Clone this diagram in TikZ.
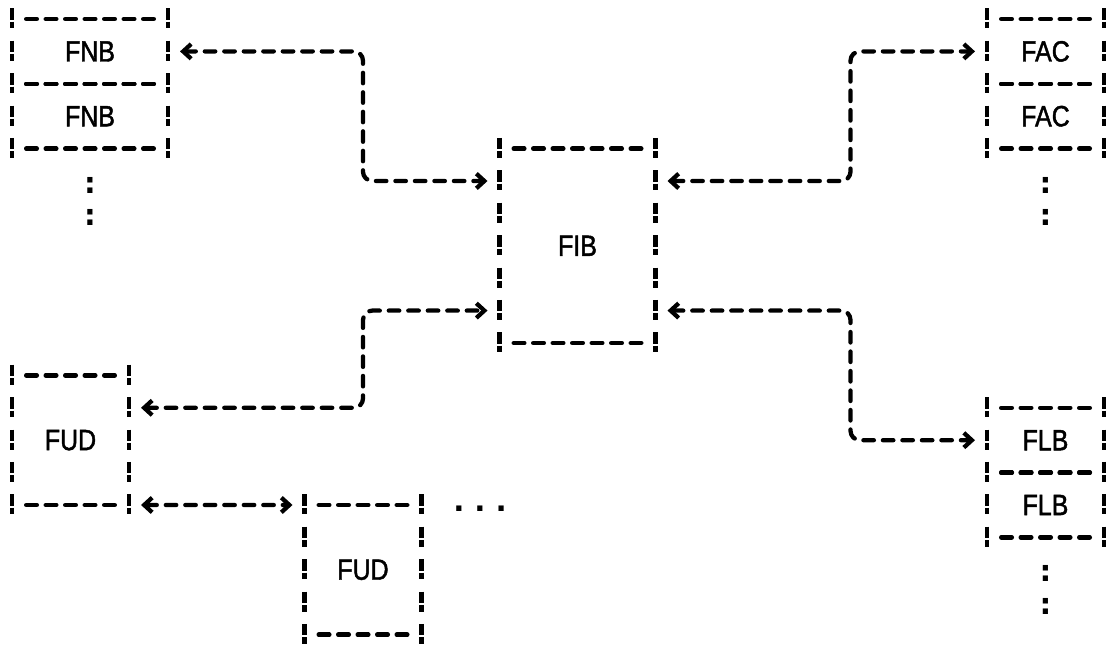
\documentclass[tikz,border=0pt]{standalone}
\usepackage{fontspec}
\setmainfont{Liberation Sans}
\newfontfamily\lblfont[FakeStretch=0.85,FakeBold=1.5]{Liberation Sans}
\newfontfamily\dotfont{DejaVu Sans}
\usetikzlibrary{arrows.meta}

\tikzset{
  box/.style={inner sep=0pt, outer sep=0pt, draw=none,
    font=\lblfont\fontsize{22}{22}\selectfont},
  hedge/.style={line width=3.4pt, line cap=round, dash pattern=on 7.875pt off 6.75pt},
  vedge/.style={line width=3.5pt, line cap=butt,
    dash pattern=on 8.55pt off 1.5pt on 4.95pt off 9.3pt},
  conn/.style={line width=3.2pt, line cap=round, line join=round, rounded corners=7pt,
    dash pattern=on 7.875pt off 6.75pt,
    {Straight Barb[length=6pt,width=11pt]}-{Straight Barb[length=6pt,width=11pt]},
    shorten <=9pt, shorten >=9pt},
  more/.style={font=\dotfont\bfseries\fontsize{22}{22}\selectfont, inner sep=0pt},
}

\newcommand\drawabox[1]{%
  \draw[hedge] ([xshift=10.7pt]#1.north west) -- ([xshift=-10.7pt]#1.north east);
  \draw[hedge] ([xshift=10.7pt]#1.south west) -- ([xshift=-10.7pt]#1.south east);
  \draw[vedge] ([yshift=8pt]#1.north west) -- ([yshift=-7pt]#1.south west);
  \draw[vedge] ([yshift=8pt]#1.north east) -- ([yshift=-7pt]#1.south east);
}

\begin{document}
\begin{tikzpicture}[x=0.75pt, y=-0.75pt]
  \fill[white] (0,0) rectangle (1115,645);
  \useasboundingbox (0,0) rectangle (1115,645);

  % boxes
  \node[box, minimum width=117pt, minimum height=48.6pt] (fnbA) at (90,51.4) {FNB};
  \node[box, minimum width=117pt, minimum height=48.6pt] (fnbB) at (90,116.2) {FNB};
  \node[box, minimum width=87.75pt, minimum height=48.6pt] (facA) at (1045.5,51.4) {FAC};
  \node[box, minimum width=87.75pt, minimum height=48.6pt] (facB) at (1045.5,116.2) {FAC};
  \node[box, minimum width=117pt, minimum height=145.8pt] (fib) at (577.5,245.8) {FIB};
  \node[box, minimum width=87.75pt, minimum height=97.2pt] (fudA) at (70.5,440.2) {FUD};
  \node[box, minimum width=87.75pt, minimum height=97.2pt] (fudB) at (363,569.8) {FUD};
  \node[box, minimum width=87.75pt, minimum height=48.6pt] (flbA) at (1045.5,440.2) {FLB};
  \node[box, minimum width=87.75pt, minimum height=48.6pt] (flbB) at (1045.5,505) {FLB};

  \drawabox{fnbA}\drawabox{fnbB}
  \drawabox{facA}\drawabox{facB}
  \drawabox{fib}
  \drawabox{fudA}\drawabox{fudB}
  \drawabox{flbA}\drawabox{flbB}

  % continuation marks
  \node[more] (fnbmoreA) at (90,185) {:};
  \node[more] (fnbmoreB) at (90,217.4) {:};
  \node[more] (facmoreA) at (1045.5,185) {:};
  \node[more] (facmoreB) at (1045.5,217.4) {:};
  \node[more] (flbmoreA) at (1045.5,573.8) {:};
  \node[more] (flbmoreB) at (1045.5,606.2) {:};
  \node[more] (fudmore) at (480,509) {.\kern7.5pt.\kern7.5pt.};

  % bend points
  \coordinate (b1) at (363,51.4);
  \coordinate (b2) at (363,181);
  \coordinate (b3) at (850.5,181);
  \coordinate (b4) at (850.5,51.4);
  \coordinate (b5) at (363,407.8);
  \coordinate (b6) at (363,310.6);
  \coordinate (b7) at (850.5,310.6);
  \coordinate (b8) at (850.5,440.2);

  % connectors
  \draw[conn] (fnbA.east) -- (b1) -- (b2) -- (fib.west |- b2);
  \draw[conn] (fib.east |- b3) -- (b3) -- (b4) -- (facA.west);
  \draw[conn] (fudA.east |- b5) -- (b5) -- (b6) -- (fib.west |- b6);
  \draw[conn] (fib.east |- b7) -- (b7) -- (b8) -- (flbA.west);
  \draw[conn] (fudA.south east) -- (fudB.north west);
\end{tikzpicture}
\end{document}
